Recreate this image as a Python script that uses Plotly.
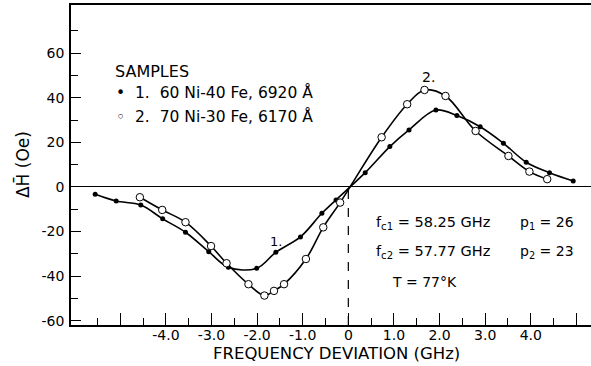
import plotly.graph_objects as go

# Sample 1: 60 Ni-40 Fe, 6920 Å (filled dots)
s1_x = [-5.55, -5.09, -4.55, -4.07, -3.57, -3.06, -2.63, -2.01, -1.59, -1.05, -0.58, -0.27,
        0.37, 0.91, 1.33, 1.92, 2.38, 2.89, 3.40, 3.90, 4.41, 4.93]
s1_y = [-3.3, -6.3, -8.1, -14.3, -20.3, -29.0, -36.0, -36.5, -29.3, -22.4, -11.8, -5.8,
        6.4, 18.1, 25.6, 34.5, 32.0, 27.0, 19.6, 11.1, 6.4, 2.7]

# Sample 2: 70 Ni-30 Fe, 6170 Å (open circles)
s2_x = [-4.57, -4.08, -3.57, -3.01, -2.67, -2.19, -1.84, -1.63, -1.41, -0.93, -0.55, -0.18,
        0.73, 1.29, 1.67, 2.13, 2.79, 3.51, 3.97, 4.36]
s2_y = [-4.6, -10.3, -15.8, -26.5, -34.2, -43.6, -48.7, -46.6, -43.6, -32.3, -18.1, -7.0,
        22.3, 37.1, 43.5, 40.8, 25.1, 13.9, 6.9, 3.5]

x_major = [-5, -4, -3, -2, -1, 0, 1, 2, 3, 4, 5]
x_major_text = ["", "-4.0", "-3.0", "-2.0", "-1.0", "0", "1.0", "2.0", "3.0", "4.0", ""]
x_minor = [-5.5, -4.5, -3.5, -2.5, -1.5, -0.5, 0.5, 1.5, 2.5, 3.5, 4.5]
y_major = [-60, -40, -20, 0, 20, 40, 60]
y_major_text = ["-60", "-40", "-20", "0", "20", "40", "60"]
y_minor = [-50, -30, -10, 10, 30, 50, 70]

FONT = "DejaVu Sans"
XR = [-6.08, 5.32]
YR = [-61.9, 81.6]

fig = go.Figure()
fig.add_trace(go.Scatter(
    x=s1_x, y=s1_y, mode="lines+markers",
    line=dict(color="black", width=1.6, shape="spline", smoothing=1.0),
    marker=dict(symbol="circle", size=5, color="black"),
    showlegend=False))
fig.add_trace(go.Scatter(
    x=s2_x, y=s2_y, mode="lines+markers",
    line=dict(color="black", width=1.6, shape="spline", smoothing=1.0),
    marker=dict(symbol="circle", size=7.5, color="white", line=dict(color="black", width=1)),
    showlegend=False))

# dashed vertical line at zero frequency deviation
fig.add_shape(type="line", xref="x", yref="y", x0=0, x1=0, y0=YR[0], y1=0,
              line=dict(color="black", width=1.2, dash="dash"), layer="below")

ann = []
def add(text, x, y, size=14, xanchor="left", xref="x", yref="y", angle=0):
    ann.append(dict(text=text, x=x, y=y, xref=xref, yref=yref, showarrow=False,
                    xanchor=xanchor, yanchor="middle", textangle=angle,
                    font=dict(family=FONT, size=size, color="black")))

add("SAMPLES", -5.16, 52.0, size=16)
add("•  1.  60 Ni-40 Fe, 6920 Å", -5.14, 42.2, size=15.5)
add("◦  2.  70 Ni-30 Fe, 6170 Å", -5.14, 31.4, size=15.5)
add("2.", 1.75, 49.3, size=14, xanchor="center")
add("1.", -1.59, -24.5, size=13, xanchor="center")
add("f<sub>c1</sub> = 58.25 GHz", 0.57, -16.1, size=14.5)
add("p<sub>1</sub> = 26", 3.72, -16.1, size=14)
add("f<sub>c2</sub> = 57.77 GHz", 0.57, -29.1, size=14.5)
add("p<sub>2</sub> = 23", 3.72, -29.1, size=14)
add("T = 77°K", 0.91, -42.6, size=14)
add("ΔH̄ (Oe)", -0.092, 9.9, size=17, xanchor="center", xref="paper", angle=-90)
add("FREQUENCY DEVIATION (GHz)", -0.25, -0.09, size=16.5, xanchor="center", yref="paper")

fig.update_layout(
    width=591, height=366,
    margin=dict(l=71, r=0, t=5, b=41),
    paper_bgcolor="white", plot_bgcolor="white",
    font=dict(family=FONT, size=13, color="black"),
    annotations=ann,
    xaxis=dict(range=XR, showgrid=False, zeroline=False,
               showline=True, linecolor="black", linewidth=1.5, mirror=True,
               tickmode="array", tickvals=x_major, ticktext=x_major_text,
               ticks="inside", ticklen=12, tickwidth=1.3, tickcolor="black",
               minor=dict(tickmode="array", tickvals=x_minor, ticks="inside",
                          ticklen=7, tickwidth=1.3, tickcolor="black", showgrid=False),
               tickfont=dict(family=FONT, size=14), ticklabelstandoff=-4),
    yaxis=dict(range=YR, showgrid=False, zeroline=True, zerolinecolor="black",
               zerolinewidth=1.3,
               showline=True, linecolor="black", linewidth=1.5, mirror=False,
               tickmode="array", tickvals=y_major, ticktext=y_major_text,
               ticks="inside", ticklen=10, tickwidth=1.3, tickcolor="black",
               minor=dict(tickmode="array", tickvals=y_minor, ticks="inside",
                          ticklen=7, tickwidth=1.3, tickcolor="black", showgrid=False),
               tickfont=dict(family=FONT, size=14), ticklabelstandoff=2),
)

fig.write_html("out.html")
